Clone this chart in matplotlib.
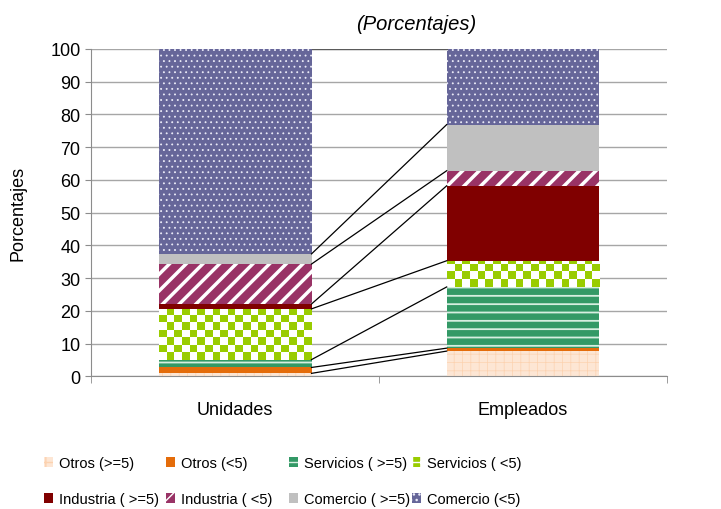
import numpy as np
import matplotlib
matplotlib.use("Agg")
import matplotlib.pyplot as plt
from matplotlib.patches import Patch

plt.rcParams["font.family"] = ["Liberation Sans", "DejaVu Sans"]

# =========================
# Datos (porcentajes)
# =========================

categorias = ["Unidades", "Empleados"]

otros_5mas = [0.9, 7.7]
otros_menos5 = [1.8, 0.9]
servicios_5mas = [2.4, 18.7]
servicios_menos5 = [15.5, 8.0]
industria_5mas = [1.5, 22.9]
industria_menos5 = [12.2, 4.6]
comercio_5mas = [3.1, 14.1]
comercio_menos5 = [62.6, 23.1]

etiquetas = [
    "Otros (>=5)", "Otros (<5)", "Servicios ( >=5)", "Servicios ( <5)",
    "Industria ( >=5)", "Industria ( <5)", "Comercio ( >=5)", "Comercio (<5)",
]
valores = [
    otros_5mas, otros_menos5, servicios_5mas, servicios_menos5,
    industria_5mas, industria_menos5, comercio_5mas, comercio_menos5,
]

# facecolor, hatch color, hatch, hatch linewidth
estilos = [
    ("#fde6d4", "#fcd2b0", "++", 0.5),
    ("#e46c0a", "#e46c0a", None, 1.0),
    ("#339966", "#d6eee0", "--", 1.3),
    ("#ffffff", "#ffffff", None, 1.0),      # cuadros, se pinta aparte
    ("#800000", "#800000", None, 1.0),
    ("#993366", "#ffffff", "//", 2.5),
    ("#c0c0c0", "#c0c0c0", None, 1.0),
    ("#666699", "#ebebf8", "...", 0.6),
]

ancho = 0.53
gris = "#8c8c8c"

fig = plt.figure(figsize=(7.21, 5.10), dpi=100)
ax = fig.add_axes([0.1269, 0.2602, 0.7978, 0.6418])

x = np.arange(len(categorias))
base = np.zeros(len(categorias))
handles = []
for vals, (fc, hc, hatch, hlw), lab in zip(valores, estilos, etiquetas):
    vals = np.array(vals)
    with plt.rc_context({"hatch.linewidth": hlw}):
        bars = ax.bar(x, vals, ancho, bottom=base, color=fc, edgecolor=hc,
                      hatch=hatch, linewidth=0, zorder=2)
        for b in bars:
            if hasattr(b, "set_hatch_linewidth"):
                b.set_hatch_linewidth(hlw)
    if lab == "Servicios ( <5)":
        # cuadriculado verde/blanco recortado a cada barra
        for b in bars:
            x0, y0 = b.get_x(), b.get_y()
            w, h = b.get_width(), b.get_height()
            nx = 20
            sy = 2.3
            ny = int(np.ceil(h / sy))
            tablero = (np.indices((ny, nx)).sum(axis=0) % 2).astype(float)
            img = np.ones((ny, nx, 3))
            img[tablero == 1] = [0.6, 0.8, 0.0]
            im = ax.imshow(img, extent=(x0, x0 + w, y0, y0 + ny * sy),
                           origin="lower", aspect="auto",
                           interpolation="nearest", zorder=2.5)
            im.set_clip_path(b)
        h_patch = Patch(facecolor="#99cc00", edgecolor="white",
                        hatch="++", linewidth=0)
    else:
        with plt.rc_context({"hatch.linewidth": hlw}):
            h_patch = Patch(facecolor=fc, edgecolor=hc, hatch=hatch,
                            linewidth=0)
    handles.append((h_patch, lab))
    base = base + vals

# lineas de serie entre las barras
acum = np.cumsum(np.array(valores), axis=0)
for i, tope in enumerate(acum):
    col = "#5a5a5a" if i == len(acum) - 1 else "black"
    ax.plot([x[0] + ancho / 2, x[1] - ancho / 2], tope, color=col,
            lw=0.9, zorder=3)

ax.set_xlim(-0.5, 1.5)
ax.set_ylim(0, 100)
ax.set_yticks(np.arange(0, 101, 10))
ax.yaxis.grid(True, color="#a6a6a6", lw=1)
ax.set_axisbelow(True)

for s in ["top", "right"]:
    ax.spines[s].set_visible(False)
for s in ["left", "bottom"]:
    ax.spines[s].set_color(gris)

ax.tick_params(axis="y", length=4, color=gris, labelsize=13, pad=4)
ax.set_xticks(x)
ax.set_xticklabels(categorias)
ax.tick_params(axis="x", which="major", length=0, labelsize=13, pad=18)
ax.set_xticks([-0.5, 0.5, 1.5], minor=True)
ax.tick_params(axis="x", which="minor", length=5, color=gris)

fig.text(416 / 721, 1 - 24 / 510, "(Porcentajes)", style="italic",
         fontsize=14.5, ha="center", va="center")
fig.text(18 / 721, 1 - 213.5 / 510, "Porcentajes", rotation=90,
         fontsize=13, ha="center", va="center")

# leyenda en 4 columnas de ancho fijo
col_x = [44, 166, 289, 412]
for c in range(4):
    hs = [handles[c][0], handles[c + 4][0]]
    ls = [handles[c][1], handles[c + 4][1]]
    fig.legend(hs, ls, loc="center left",
               bbox_to_anchor=(col_x[c] / 721, 1 - 482 / 510),
               frameon=False, fontsize=10.5, handlelength=0.65,
               handleheight=0.65, handletextpad=0.35, labelspacing=1.5,
               borderpad=0, borderaxespad=0)

fig.savefig("out.png", dpi=100)
